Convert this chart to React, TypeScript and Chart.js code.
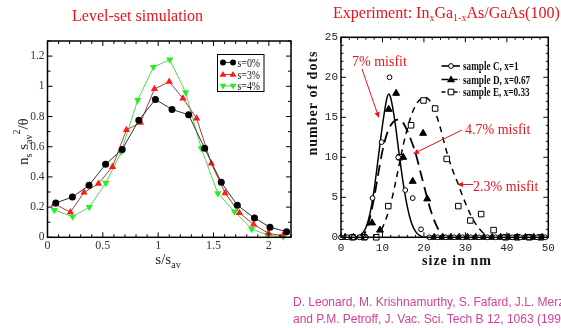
import React, { useEffect, useRef } from "react";
import { Chart, registerables } from "chart.js";
Chart.register(...registerables);

// ---------- Left panel: level-set simulation ----------
const simTitle = "Level-set simulation";
const simLabels = ["s=0%", "s=3%", "s=4%"];
const sim0X = [0.075, 0.225, 0.375, 0.525, 0.675, 0.825, 0.975, 1.125, 1.275, 1.42, 1.57, 1.715, 1.87, 2.01, 2.16];
const sim0Y = [0.227, 0.267, 0.344, 0.484, 0.582, 0.775, 0.913, 0.847, 0.811, 0.589, 0.364, 0.213, 0.127, 0.067, 0.037];
const sim3X = [0.062, 0.207, 0.33, 0.46, 0.587, 0.713, 0.84, 0.966, 1.1, 1.224, 1.347, 1.48, 1.605, 1.734, 1.862, 1.996, 2.125];
const sim3Y = [0.22, 0.167, 0.297, 0.355, 0.467, 0.711, 0.76, 0.982, 1.03, 0.92, 0.787, 0.489, 0.293, 0.162, 0.085, 0.027, 0.01];
const sim4X = [0.061, 0.227, 0.377, 0.527, 0.665, 0.815, 0.957, 1.104, 1.248, 1.389, 1.539, 1.689, 1.845, 1.99, 2.13];
const sim4Y = [0.18, 0.137, 0.2, 0.36, 0.564, 0.909, 1.127, 1.177, 0.96, 0.589, 0.291, 0.171, 0.055, 0.015, 0.005];
const simXTicks = [0, 0.5, 1, 1.5, 2];
const simYTicks = [0, 0.2, 0.4, 0.6, 0.8, 1, 1.2];

// ---------- Right panel: experiment ----------
const expLabels = ["sample C, x=1", "sample D, x=0.67", "sample E, x=0.33"];
const sampCX = [0, 1.5, 3, 4.5, 6, 7.6, 9.8, 11.7, 13.8, 15.5, 17.3, 19.3, 21.3, 23.3, 25.3, 27.3, 29.3, 31.3, 33.3, 35.3, 37.3, 39.3, 41.3, 43.3, 45.3, 47.3, 49.3];
const sampCY = [0, 0, 0, 0, 0, 4.9, 11.9, 20, 10, 5.9, 4.9, 1, 0, 0, 0, 0, 0, 0, 0, 0, 0, 0, 0, 0, 0, 0, 0];
const sampDX = [1, 3, 5, 7.5, 9.4, 11.5, 13.3, 15, 17.3, 19.8, 20.8, 22.5, 24.5, 26.5, 28.5, 30.5, 32.5, 34.5, 36.5, 38.5, 40.5, 42.5, 44.5, 46.5, 48.5];
const sampDY = [0, 0, 0, 1.8, 0.9, 16, 18, 10, 7, 13, 4.8, 0, 0, 0, 0, 0, 0, 0, 0, 0, 0, 0, 0, 0, 0];
const sampEX = [2.8, 5.6, 8.5, 11.4, 14.2, 16.9, 19.9, 22.7, 25.5, 28.3, 31.2, 33.8, 36.8, 39.7, 42.5, 45.4, 48.2];
const sampEY = [0, 0, 0, 3.9, 10, 14, 17.1, 16.1, 9.8, 3.9, 2.1, 2.9, 0.9, 0, 0, 0, 0];
// fitted curves
const fitCX = [0, 3, 4, 5, 6, 7, 8, 9, 10, 11, 11.5, 12, 13, 14, 15, 16, 17, 18, 19, 20, 22, 50];
const fitCY = [0, 0, 0.1, 0.4, 1.2, 3, 6, 10, 14, 17.2, 17.9, 17.4, 14.5, 10.5, 6.8, 3.8, 1.8, 0.7, 0.2, 0, 0, 0];
const fitDX = [0, 5, 6, 7, 8, 9, 10, 11, 12, 13, 14, 15, 16, 17, 18, 19, 20, 21, 22, 23, 24, 25, 26, 50];
const fitDY = [0, 0, 0.8, 2.5, 5, 8, 10.8, 12.8, 14, 14.6, 14.7, 14.3, 13.3, 12, 10.5, 8.5, 6.5, 4.5, 2.8, 1.5, 0.6, 0.2, 0, 0];
const fitEX = [0, 8, 9, 10, 11, 12, 13, 14, 15, 16, 17, 18, 19, 20, 21, 22, 23, 24, 25, 26, 27, 28, 29, 30, 31, 32, 33, 34, 35, 36, 50];
const fitEY = [0, 0, 0.4, 1.2, 2.5, 4.2, 6.5, 9, 11.5, 13.6, 15.3, 16.5, 17.2, 17.5, 17.3, 16.6, 15.3, 13.6, 11.6, 9.8, 8.3, 7, 5.6, 4.3, 3.1, 2.1, 1.3, 0.7, 0.3, 0, 0];
const expXTicks = [0, 10, 20, 30, 40, 50];
const expYTicks = [0, 5, 10, 15, 20, 25];
const annotations = ["7% misfit", "4.7% misfit", "2.3% misfit"];

const W = 561;
const H = 328;
const RED = "#e5141b";
const SERIF = "'Liberation Serif', 'Times New Roman', serif";

const pts = (xs: number[], ys: number[]) => xs.map((x, i) => ({ x, y: ys[i] }));

function tickList(min: number, max: number, step: number, major: number) {
  const out: [number, boolean][] = [];
  for (let i = 0; ; i++) {
    const v = min + i * step;
    if (v > max + 1e-9) break;
    const r = v / major;
    out.push([v, Math.abs(r - Math.round(r)) < 1e-6]);
  }
  return out;
}

function drawFrame(chart: any, xt: [number, boolean][], yt: [number, boolean][], maj: number, min: number, lw: number) {
  const { ctx, chartArea: a, scales } = chart;
  ctx.save();
  ctx.strokeStyle = "#000";
  ctx.lineWidth = 1;
  ctx.beginPath();
  for (const [v, m] of xt) {
    const p = scales.x.getPixelForValue(v);
    const L = m ? maj : min;
    ctx.moveTo(p, a.bottom); ctx.lineTo(p, a.bottom - L);
    ctx.moveTo(p, a.top); ctx.lineTo(p, a.top + L);
  }
  for (const [v, m] of yt) {
    const p = scales.y.getPixelForValue(v);
    const L = m ? maj : min;
    ctx.moveTo(a.left, p); ctx.lineTo(a.left + L, p);
    ctx.moveTo(a.right, p); ctx.lineTo(a.right - L, p);
  }
  ctx.stroke();
  ctx.lineWidth = lw;
  ctx.strokeRect(a.left, a.top, a.right - a.left, a.bottom - a.top);
  ctx.restore();
}

type Seg = { t: string; size: number; dy?: number; dx?: number };
function drawRich(ctx: CanvasRenderingContext2D, segs: Seg[], x: number, y: number, weight = "") {
  let cx = x;
  for (const s of segs) {
    ctx.font = `${weight}${s.size}px ${SERIF}`;
    cx += s.dx || 0;
    ctx.fillText(s.t, cx, y + (s.dy || 0));
    cx += ctx.measureText(s.t).width;
  }
}
function richWidth(ctx: CanvasRenderingContext2D, segs: Seg[], weight = "") {
  let w = 0;
  for (const s of segs) {
    ctx.font = `${weight}${s.size}px ${SERIF}`;
    w += (s.dx || 0) + ctx.measureText(s.t).width;
  }
  return w;
}

function narrowText(ctx: CanvasRenderingContext2D, t: string, x: number, y: number, sx: number) {
  ctx.save();
  ctx.translate(x, y);
  ctx.scale(sx, 1);
  ctx.fillText(t, 0, 0);
  ctx.restore();
}

function marker(ctx: CanvasRenderingContext2D, kind: string, x: number, y: number, r: number, fill: string, stroke: string) {
  ctx.beginPath();
  if (kind === "circle") ctx.arc(x, y, r, 0, Math.PI * 2);
  else if (kind === "up") { ctx.moveTo(x, y - r); ctx.lineTo(x + r * 0.95, y + r * 0.65); ctx.lineTo(x - r * 0.95, y + r * 0.65); ctx.closePath(); }
  else if (kind === "down") { ctx.moveTo(x, y + r); ctx.lineTo(x + r * 0.95, y - r * 0.65); ctx.lineTo(x - r * 0.95, y - r * 0.65); ctx.closePath(); }
  else if (kind === "rect") ctx.rect(x - r, y - r, 2 * r, 2 * r);
  if (fill !== "none") { ctx.fillStyle = fill; ctx.fill(); }
  if (stroke !== "none") { ctx.strokeStyle = stroke; ctx.lineWidth = 1; ctx.stroke(); }
}

function arrow(ctx: CanvasRenderingContext2D, x1: number, y1: number, x2: number, y2: number) {
  const ang = Math.atan2(y2 - y1, x2 - x1);
  const hl = 6, hw = 2.6;
  ctx.strokeStyle = RED; ctx.fillStyle = RED; ctx.lineWidth = 1;
  ctx.beginPath();
  ctx.moveTo(x1, y1);
  ctx.lineTo(x2 - Math.cos(ang) * hl, y2 - Math.sin(ang) * hl);
  ctx.stroke();
  ctx.beginPath();
  ctx.moveTo(x2, y2);
  ctx.lineTo(x2 - Math.cos(ang) * hl - Math.sin(ang) * hw, y2 - Math.sin(ang) * hl + Math.cos(ang) * hw);
  ctx.lineTo(x2 - Math.cos(ang) * hl + Math.sin(ang) * hw, y2 - Math.sin(ang) * hl - Math.cos(ang) * hw);
  ctx.closePath();
  ctx.fill();
}

const simColors = [
  { line: "#333333", pt: "#000000", kind: "circle" },
  { line: "#b03a3a", pt: "#ff1a1a", kind: "up" },
  { line: "#55d455", pt: "#22f022", kind: "down" },
];

function leftConfig(): any {
  const xt = tickList(0, 2.2, 0.1, 0.5);
  const yt = tickList(0, 1.3, 0.1, 0.2);
  const plugin = {
    id: "leftDeco",
    afterDraw(chart: any) {
      drawFrame(chart, xt, yt, 5, 3, 1.5);
      const ctx: CanvasRenderingContext2D = chart.ctx;
      ctx.save();
      // legend
      ctx.strokeStyle = "#000"; ctx.lineWidth = 1;
      ctx.strokeRect(217.5, 54.5, 46.5, 37);
      const ys = [62.5, 74.5, 86];
      simLabels.forEach((lab, i) => {
        const c = simColors[i];
        ctx.strokeStyle = c.line; ctx.lineWidth = 1;
        ctx.beginPath(); ctx.moveTo(223, ys[i]); ctx.lineTo(233, ys[i]); ctx.stroke();
        const r = c.kind === "circle" ? 3 : 3.6;
        marker(ctx, c.kind, 223, ys[i], r, c.pt, "none");
        marker(ctx, c.kind, 233, ys[i], r, c.pt, "none");
        ctx.fillStyle = "#111";
        ctx.font = `11.5px ${SERIF}`;
        ctx.textBaseline = "alphabetic";
        narrowText(ctx, lab, 237.5, ys[i] + 4, 0.86);
      });
      // axis titles
      ctx.fillStyle = "#222";
      const xs: Seg[] = [{ t: "s/s", size: 15 }, { t: "av", size: 10, dy: 4 }];
      const xw = richWidth(ctx, xs);
      drawRich(ctx, xs, 168 - xw / 2, 264);
      ctx.translate(28, 165);
      ctx.rotate(-Math.PI / 2);
      drawRich(ctx, [
        { t: "n", size: 15 }, { t: "s", size: 10, dy: 4 }, { t: " s", size: 15 },
        { t: "av", size: 10, dy: 4 }, { t: "2", size: 10, dy: -8 }, { t: "/\u03b8", size: 15 },
      ], 0, 0);
      ctx.restore();
    },
  };
  return {
    type: "line",
    data: {
      datasets: [sim0X, sim3X, sim4X].map((xs, i) => {
        const ysArr = [sim0Y, sim3Y, sim4Y][i];
        const c = simColors[i];
        return {
          label: simLabels[i],
          data: pts(xs, ysArr),
          borderColor: c.line,
          borderWidth: 1,
          backgroundColor: c.pt,
          pointBackgroundColor: c.pt,
          pointBorderColor: c.pt,
          pointBorderWidth: 0,
          pointStyle: i === 0 ? "circle" : "triangle",
          pointRotation: i === 2 ? 180 : 0,
          pointRadius: i === 0 ? 3.5 : 4.2,
          tension: 0,
          clip: false,
        };
      }),
    },
    options: {
      responsive: false,
      animation: false,
      events: [],
      layout: { padding: { left: 0, top: 41, right: W - 291, bottom: 0 } },
      plugins: { legend: { display: false }, tooltip: { enabled: false } },
      scales: {
        x: {
          type: "linear", min: 0, max: 2.2,
          grid: { display: false, drawTicks: false }, border: { display: false },
          afterBuildTicks: (s: any) => { s.ticks = simXTicks.map((v) => ({ value: v })); },
          afterFit: (s: any) => { s.height = H - 237.3; },
          ticks: { padding: 1, color: "#333", font: { family: SERIF, size: 12 }, callback: (v: any) => `${v}`, maxRotation: 0, autoSkip: false },
        },
        y: {
          type: "linear", min: 0, max: 1.3,
          grid: { display: false, drawTicks: false }, border: { display: false },
          afterBuildTicks: (s: any) => { s.ticks = simYTicks.map((v) => ({ value: v })); },
          afterFit: (s: any) => { s.width = 47.5; },
          ticks: { padding: 3, color: "#333", font: { family: SERIF, size: 11.5 }, callback: (v: any) => `${v}`, autoSkip: false },
        },
      },
    },
    plugins: [plugin],
  };
}

function rightConfig(): any {
  const xt = tickList(0, 50, 2, 10);
  const yt = tickList(0, 25, 1, 5);
  const plugin = {
    id: "rightDeco",
    afterDraw(chart: any) {
      drawFrame(chart, xt, yt, 5, 2.5, 1.5);
      const ctx: CanvasRenderingContext2D = chart.ctx;
      ctx.save();
      // legend
      const ly = [66, 79.5, 92];
      const kinds = ["circle", "up", "rect"];
      const dashes = [[], [7, 2], [4, 2]];
      expLabels.forEach((lab, i) => {
        ctx.strokeStyle = "#000"; ctx.lineWidth = 1.6;
        ctx.setLineDash(dashes[i]);
        ctx.beginPath(); ctx.moveTo(441.5, ly[i]); ctx.lineTo(460, ly[i]); ctx.stroke();
        ctx.setLineDash([]);
        if (kinds[i] === "circle") marker(ctx, "circle", 451, ly[i], 2.4, "#fff", "#000");
        else if (kinds[i] === "up") marker(ctx, "up", 451, ly[i], 4.3, "#000", "none");
        else marker(ctx, "rect", 451, ly[i], 2.8, "#fff", "#000");
        ctx.fillStyle = "#111";
        ctx.font = `bold 11.5px ${SERIF}`;
        narrowText(ctx, lab, 463, ly[i] + 4, 0.8);
      });
      // annotations
      ctx.fillStyle = RED;
      ctx.font = `14px ${SERIF}`;
      ctx.fillText(annotations[0], 352, 66);
      ctx.fillText(annotations[1], 465, 134);
      ctx.fillText(annotations[2], 473, 191);
      arrow(ctx, 362, 69, 379, 118);
      arrow(ctx, 462, 130, 413, 154);
      arrow(ctx, 473, 184.5, 457, 184.5);
      // axis titles
      ctx.fillStyle = "#111";
      ctx.font = `bold 14px ${SERIF}`;
      (ctx as any).letterSpacing = "1px";
      ctx.textAlign = "center";
      ctx.fillText("size in nm", 457, 265);
      ctx.translate(317, 103);
      ctx.rotate(-Math.PI / 2);
      ctx.fillText("number of dots", 0, 0);
      ctx.restore();
    },
  };
  const fit = (xs: number[], ys: number[], dash: number[], w: number) => ({
    type: "line", data: pts(xs, ys), borderColor: "#000", borderWidth: w, borderDash: dash,
    pointRadius: 0, cubicInterpolationMode: "monotone", fill: false, clip: false,
  });
  const samp = (xs: number[], ys: number[], style: string, r: number, bg: string) => ({
    type: "line", data: pts(xs, ys), showLine: false, pointStyle: style, pointRadius: r,
    pointBackgroundColor: bg, pointBorderColor: "#000", pointBorderWidth: 1, clip: false,
  });
  return {
    type: "line",
    data: {
      datasets: [
        { label: expLabels[0], ...samp(sampCX, sampCY, "circle", 2.4, "#fff") },
        { label: expLabels[1], ...samp(sampDX, sampDY, "triangle", 4, "#000") },
        { label: expLabels[2], ...samp(sampEX, sampEY, "rect", 3.9, "#fff") },
        { label: "fit C", ...fit(fitCX, fitCY, [], 1.5) },
        { label: "fit D", ...fit(fitDX, fitDY, [11, 6], 1.8) },
        { label: "fit E", ...fit(fitEX, fitEY, [6, 5], 1.5) },
      ],
    },
    options: {
      responsive: false,
      animation: false,
      events: [],
      layout: { padding: { left: 0, top: 37.3, right: W - 548.3, bottom: 0 } },
      plugins: { legend: { display: false }, tooltip: { enabled: false } },
      scales: {
        x: {
          type: "linear", min: 0, max: 50,
          grid: { display: false, drawTicks: false }, border: { display: false },
          afterBuildTicks: (s: any) => { s.ticks = expXTicks.map((v) => ({ value: v })); },
          afterFit: (s: any) => { s.height = H - 237.3; },
          ticks: { padding: 4, color: "#222", font: { family: "'Liberation Mono', monospace", size: 11 }, callback: (v: any) => `${v}`, maxRotation: 0, autoSkip: false },
        },
        y: {
          type: "linear", min: 0, max: 25,
          grid: { display: false, drawTicks: false }, border: { display: false },
          afterBuildTicks: (s: any) => { s.ticks = expYTicks.map((v) => ({ value: v })); },
          afterFit: (s: any) => { s.width = 341; },
          ticks: { padding: 3, color: "#222", font: { family: "'Liberation Mono', monospace", size: 11 }, callback: (v: any) => `${v}`, autoSkip: false },
        },
      },
    },
    plugins: [plugin],
  };
}

export default function App() {
  const leftRef = useRef<HTMLCanvasElement>(null);
  const rightRef = useRef<HTMLCanvasElement>(null);
  useEffect(() => {
    const c1 = new Chart(leftRef.current as HTMLCanvasElement, leftConfig());
    const c2 = new Chart(rightRef.current as HTMLCanvasElement, rightConfig());
    return () => { c1.destroy(); c2.destroy(); };
  }, []);
  const sub = { fontSize: 10, position: "relative" as const, top: 3 };
  return (
    <div style={{ position: "fixed", left: 0, top: 0, width: W, height: H, overflow: "hidden", background: "#fff" }}>
      <canvas ref={leftRef} width={W} height={H} style={{ position: "absolute", left: 0, top: 0 }} />
      <canvas ref={rightRef} width={W} height={H} style={{ position: "absolute", left: 0, top: 0 }} />
      <div style={{ position: "absolute", left: 72, top: 7, font: `16px ${SERIF}`, lineHeight: "18px", color: RED, whiteSpace: "nowrap" }}>
        {simTitle}
      </div>
      <div style={{ position: "absolute", left: 333, top: 4, font: `16px ${SERIF}`, lineHeight: "18px", color: RED, whiteSpace: "nowrap" }}>
        Experiment: In<span style={sub}>x</span>Ga<span style={sub}>1-x</span>As/GaAs(100)
      </div>
      <div style={{ position: "absolute", left: 293, top: 294, font: "12px 'Liberation Sans', Arial, sans-serif", lineHeight: "17px", color: "#d3409a", whiteSpace: "nowrap" }}>
        <div>D. Leonard, M. Krishnamurthy, S. Fafard, J.L. Merz,</div>
        <div>and P.M. Petroff, J. Vac. Sci. Tech B 12, 1063 (1994)</div>
      </div>
    </div>
  );
}
